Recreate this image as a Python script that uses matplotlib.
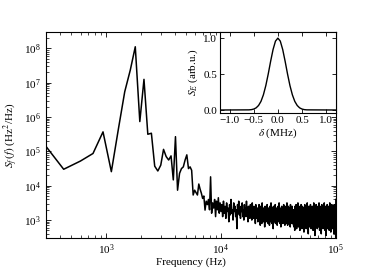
import numpy as np
import matplotlib
matplotlib.use("Agg")
import matplotlib.pyplot as plt
from matplotlib.ticker import FixedLocator, LogLocator, NullFormatter

plt.rcParams['font.family'] = ['Liberation Serif', 'DejaVu Serif']
plt.rcParams['mathtext.fontset'] = 'stix'
plt.rcParams['font.size'] = 8

# frequency bin width of the spectrum (Hz)
df = 171.0

# log10 of S_f(f), peaks region (bins 1..58)
log_psd_low = [5.44, 4.48, 4.72, 4.94, 5.57, 4.41, 5.67, 6.74, 7.37, 8.05,
               5.87, 7.10, 5.50, 5.53, 4.57, 4.43, 4.60, 5.06, 4.85, 4.75,
               4.87, 4.17, 5.43, 3.87, 4.36, 4.50, 4.55, 4.75, 4.90, 4.50,
               4.55, 4.45, 3.73, 3.87, 3.80, 3.73, 4.05, 3.90, 3.78, 3.63,
               3.70, 3.29, 3.55, 3.45, 3.60, 3.30, 4.26, 3.20, 3.50, 3.35,
               3.60, 3.10, 3.55, 3.30, 3.65, 3.20, 3.50, 3.25]

# log10 of S_f(f), 10-43 kHz
log_psd_mid = [3.45, 3.1, 3.55, 3.2, 3.4, 3.05, 3.5, 3.25, 3.35, 2.95, 3.45, 3.15, 3.6, 3.2, 3.3, 3.0, 3.5, 3.25, 3.4, 3.1,
               3.3, 2.75, 3.45, 3.2, 3.55, 3.15, 3.35, 3.05, 3.4, 3.25, 3.5, 3.1, 3.3, 3.0, 3.45, 3.2, 3.35, 3.1, 3.55, 3.15,
               3.25, 2.95, 3.4, 3.2, 3.3, 3.05, 3.45, 3.15, 3.35, 3.0, 3.5, 3.2, 3.3, 3.05, 3.4, 3.1, 3.25, 2.9, 3.45, 3.15,
               3.3, 3.05,
               3.35, 2.95, 3.25, 3.05, 3.45, 3.0, 3.2, 2.85, 3.4, 3.1, 3.3, 2.9, 3.5, 3.15, 3.2, 2.95, 3.35, 3.05, 3.25, 2.8,
               3.4, 3.1, 3.3, 2.95, 3.15, 3.0, 3.45, 3.05, 3.25, 2.9, 3.35, 3.15, 3.2, 2.85, 3.4, 3.05, 3.3, 2.95, 3.5, 3.1,
               3.2, 2.9, 3.35, 3.0, 3.25, 2.75, 3.4, 3.1, 3.15, 2.95, 3.3, 3.05, 3.45, 2.9, 3.2, 3.0, 3.35, 3.1, 3.25, 2.85,
               3.3, 3.0, 3.4, 2.95, 3.15, 3.05, 3.5, 3.0, 3.25, 2.9, 3.35, 3.1, 3.2, 2.8, 3.3, 3.05, 3.4, 2.95, 3.2, 3.0,
               3.35, 2.9, 3.25, 3.1, 3.45, 2.95, 3.15, 3.0, 3.3, 2.85, 3.4, 3.05, 3.2, 2.9, 3.35, 3.0, 3.25, 3.1, 3.5, 2.95,
               3.2, 2.85, 3.3, 3.05, 3.4, 2.9, 3.15, 3.0, 3.35, 2.95, 3.25, 3.1, 3.3, 2.8, 3.45, 3.0, 3.2, 2.95, 3.35, 3.05,
               3.25, 2.9, 3.4, 3.0, 3.15, 2.95, 3.3, 3.05, 3.2, 2.85]

# log10 of S_f(f), 43-100 kHz
log_psd_high = [3.2, 2.8, 3.3, 2.95, 3.1, 2.7, 3.4, 3.0, 3.25, 2.85, 3.15, 2.9, 3.45, 3.05, 3.2, 2.75, 3.35, 2.95, 3.1, 2.85,
                3.3, 2.9, 3.5, 3.0, 3.15, 2.8, 3.25, 2.95, 3.4, 2.85, 3.1, 3.0, 3.3, 2.7, 3.2, 2.95, 3.35, 2.9, 3.15, 3.05,
                3.45, 2.85, 3.2, 2.95, 3.3, 2.75, 3.1, 3.0, 3.4, 2.9, 3.25, 2.8, 3.15, 3.05, 3.35, 2.9, 3.2, 2.65, 3.3, 3.0,
                3.1, 2.85, 3.45, 2.95, 3.25, 2.9, 3.15, 2.8, 3.35, 3.0, 3.2, 2.75, 3.4, 2.95, 3.1, 2.9, 3.3, 2.85, 3.5, 3.0,
                3.2, 2.8, 3.3, 2.95, 3.15, 2.6, 3.25, 3.0, 3.4, 2.9, 3.1, 2.85, 3.35, 2.95, 3.2, 2.8, 3.3, 3.05, 3.15, 2.9,
                3.45, 2.85, 3.25, 2.95, 3.1, 2.75, 3.35, 3.0, 3.2, 2.9, 3.3, 2.8, 3.15, 2.95, 3.4, 2.85, 3.25, 3.0, 3.1, 2.7,
                3.35, 2.9, 3.2, 2.95, 3.5, 2.85, 3.15, 3.0, 3.3, 2.8, 3.25, 2.9, 3.1, 2.55, 3.4, 2.95, 3.2, 2.85, 3.3, 3.0,
                3.15, 2.9, 3.45, 2.8, 3.25, 2.95, 3.1, 2.85, 3.35, 3.0, 3.2, 2.75, 3.3, 2.9, 3.15, 2.95, 3.4, 2.85, 3.2, 3.0,
                3.1, 2.8, 3.35, 2.9, 3.25, 2.95, 3.5, 2.85, 3.15, 3.0, 3.3, 2.7, 3.2, 2.9, 3.1, 2.95, 3.4, 2.8, 3.25, 3.0,
                3.15, 2.85, 3.3, 2.95, 3.2, 2.6, 3.35, 2.9, 3.1, 3.0, 3.45, 2.85, 3.2, 2.95, 3.3, 2.8, 3.15, 2.9, 3.4, 3.0,
                3.25, 2.75, 3.1, 2.95, 3.35, 2.85, 3.2, 3.0, 3.3, 2.9, 3.15, 2.8, 3.5, 2.95, 3.25, 2.85, 3.1, 3.0, 3.35, 2.7,
                3.2, 2.9, 3.3, 2.95, 3.15, 2.85, 3.4, 3.0, 3.25, 2.55, 3.1, 2.9, 3.35, 2.95, 3.2, 2.8, 3.3, 3.0, 3.15, 2.85,
                3.45, 2.9, 3.2, 2.95, 3.1, 2.75, 3.35, 3.0, 3.25, 2.85, 3.15, 2.9, 3.4, 2.8, 3.2, 2.95, 3.3, 2.85, 3.1, 3.0,
                3.35, 2.7, 3.25, 2.95, 3.15, 2.9, 3.5, 2.85, 3.2, 3.0, 3.3, 2.8, 3.1, 2.95, 3.4, 2.9, 3.2, 2.65, 3.3, 3.0,
                3.15, 2.85, 3.35, 2.95, 3.25, 2.9, 3.1, 2.8, 3.45, 3.0, 3.2, 2.85, 3.3, 2.95, 3.15, 2.75, 3.35, 2.9, 3.2, 3.0,
                3.1, 2.85, 3.4, 2.95, 3.25, 2.8, 3.15, 2.9, 3.3, 3.0, 3.2, 2.6, 3.35, 2.95, 3.1, 2.85, 3.45, 2.9, 3.2, 3.0,
                3.3, 2.8, 3.15, 2.95, 3.35, 2.85, 3.2, 2.9, 3.1, 2.7, 3.4, 2.95, 2.5, 3.6]

# inset: laser line shape S_E vs detuning
delta = [-1.2, -0.6, -0.55, -0.5, -0.45, -0.4, -0.35, -0.3, -0.25, -0.2, -0.15, -0.1, -0.05, 0.0,
         0.05, 0.1, 0.15, 0.2, 0.25, 0.3, 0.35, 0.4, 0.45, 0.5, 0.55, 0.6, 1.2]
s_e = [0.0, 0.002, 0.005, 0.013, 0.03, 0.063, 0.12, 0.211, 0.339, 0.5, 0.678, 0.841, 0.958, 1.0,
       0.958, 0.841, 0.678, 0.5, 0.339, 0.211, 0.12, 0.063, 0.03, 0.013, 0.005, 0.002, 0.0]

x_major = [1e3, 1e4, 1e5]
y_major = [1e3, 1e4, 1e5, 1e6, 1e7, 1e8]

psd = 10 ** np.array(log_psd_low + log_psd_mid + log_psd_high)
freq = df * (np.arange(1, len(psd) + 1) + 0.5)

fig = plt.figure(figsize=(3.74, 2.72), dpi=100)
ax = fig.add_axes([0.123, 0.125, 0.775, 0.757])
ax.plot(freq, psd, color='black', lw=1.1)
ax.set_xscale('log')
ax.set_yscale('log')
ax.set_xlim(300, 1e5)
ax.set_ylim(300, 3e8)
ax.xaxis.set_major_locator(FixedLocator(x_major))
ax.yaxis.set_major_locator(FixedLocator(y_major))
ax.xaxis.set_minor_locator(LogLocator(subs=np.arange(2, 10)))
ax.yaxis.set_minor_locator(LogLocator(subs=np.arange(2, 10)))
ax.xaxis.set_minor_formatter(NullFormatter())
ax.yaxis.set_minor_formatter(NullFormatter())
ax.set_xlabel('Frequency (Hz)', labelpad=0)
ax.set_ylabel(r'$S_f\,(f)$ (Hz$^2$/Hz)', labelpad=2)
ax.tick_params(which='both', direction='in', top=True, right=True)
ax.tick_params(which='major', length=3.5, width=0.6)
ax.tick_params(which='minor', length=2, width=0.5)
for s in ax.spines.values():
    s.set_linewidth(0.8)

ins = fig.add_axes([0.588, 0.585, 0.310, 0.296])
ins.plot(delta, s_e, color='black', lw=1.0)
ins.set_xlim(-1.2, 1.2)
ins.set_ylim(-0.04, 1.08)
ins.set_xticks([-1.0, -0.5, 0.0, 0.5, 1.0])
ins.set_yticks([0.0, 0.5, 1.0])
ins.set_xlabel(r'$\delta$ (MHz)', labelpad=1)
ins.set_ylabel(r'$S_E$ (arb.u.)', labelpad=2)
ins.tick_params(which='both', direction='in', top=True, right=True, length=3, width=0.6, pad=2)
for s in ins.spines.values():
    s.set_linewidth(0.8)

fig.savefig('out.png', dpi=100)
